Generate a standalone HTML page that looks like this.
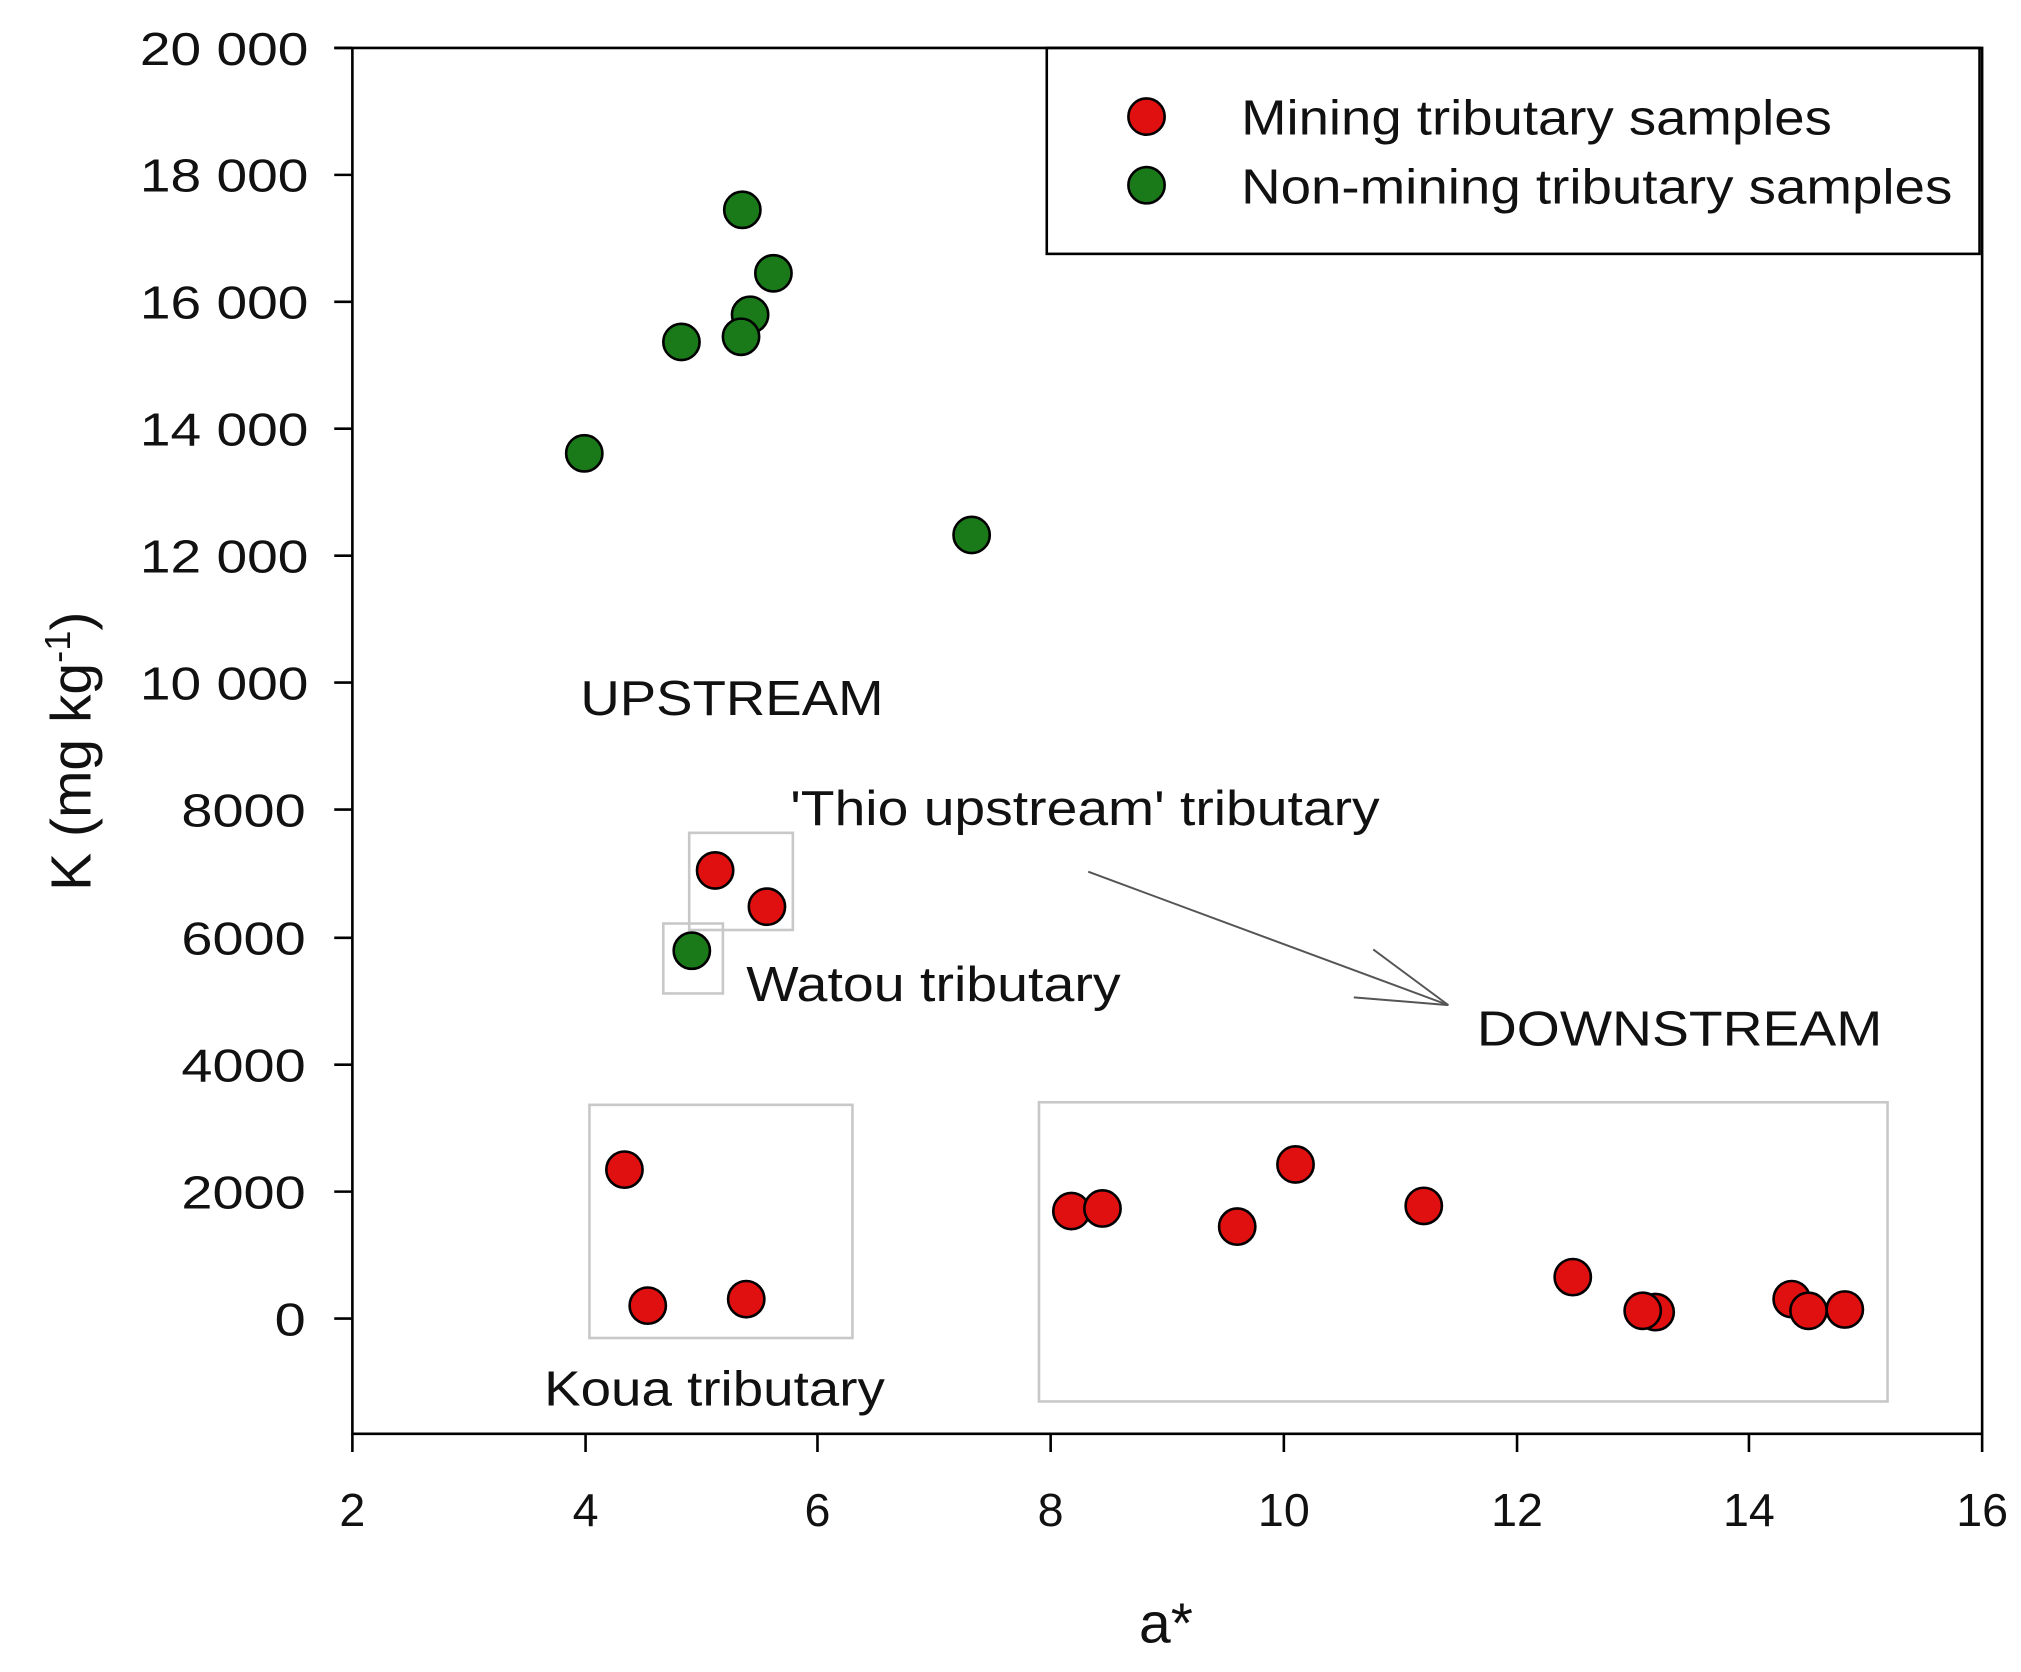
<!DOCTYPE html>
<html><head><meta charset="utf-8"><style>html,body{margin:0;padding:0;background:#fff}</style></head>
<body>
<svg width="2021" height="1667" viewBox="0 0 1560 1287" preserveAspectRatio="none" xmlns="http://www.w3.org/2000/svg" font-family="Liberation Sans, sans-serif">
<rect width="1560" height="1287" fill="#fff"/>
<g fill="none" stroke="#c8c8c8" stroke-width="2">
<rect x="532" y="643" width="80" height="75"/>
<rect x="512" y="713" width="46" height="54"/>
<rect x="455" y="853" width="203" height="180"/>
<rect x="802" y="851" width="655" height="231"/>
</g>
<g stroke="#000" stroke-width="2" fill="none">
<polyline points="258,37 1530,37 1530,1107 272,1107 272,37"/>
<rect x="808" y="37" width="720" height="159"/>
</g>
<g stroke="#000" stroke-width="2">
<line x1="258" y1="37" x2="272" y2="37"/><line x1="258" y1="135" x2="272" y2="135"/>
<line x1="258" y1="233" x2="272" y2="233"/><line x1="258" y1="331" x2="272" y2="331"/>
<line x1="258" y1="429" x2="272" y2="429"/><line x1="258" y1="527" x2="272" y2="527"/>
<line x1="258" y1="625" x2="272" y2="625"/><line x1="258" y1="724" x2="272" y2="724"/>
<line x1="258" y1="822" x2="272" y2="822"/><line x1="258" y1="920" x2="272" y2="920"/>
<line x1="258" y1="1018" x2="272" y2="1018"/>
<line x1="272" y1="1107" x2="272" y2="1121"/><line x1="452" y1="1107" x2="452" y2="1121"/>
<line x1="631" y1="1107" x2="631" y2="1121"/><line x1="811" y1="1107" x2="811" y2="1121"/>
<line x1="991" y1="1107" x2="991" y2="1121"/><line x1="1171" y1="1107" x2="1171" y2="1121"/>
<line x1="1350" y1="1107" x2="1350" y2="1121"/><line x1="1530" y1="1107" x2="1530" y2="1121"/>
</g>
<g font-size="36" fill="#111" lengthAdjust="spacingAndGlyphs">
<text x="108" y="50" textLength="130" lengthAdjust="spacingAndGlyphs">20 000</text>
<text x="108" y="148" textLength="130" lengthAdjust="spacingAndGlyphs">18 000</text>
<text x="108" y="246" textLength="130" lengthAdjust="spacingAndGlyphs">16 000</text>
<text x="108" y="344" textLength="130" lengthAdjust="spacingAndGlyphs">14 000</text>
<text x="108" y="442" textLength="130" lengthAdjust="spacingAndGlyphs">12 000</text>
<text x="108" y="540" textLength="130" lengthAdjust="spacingAndGlyphs">10 000</text>
<text x="140" y="638" textLength="96" lengthAdjust="spacingAndGlyphs">8000</text>
<text x="140" y="737" textLength="96" lengthAdjust="spacingAndGlyphs">6000</text>
<text x="140" y="835" textLength="96" lengthAdjust="spacingAndGlyphs">4000</text>
<text x="140" y="933" textLength="96" lengthAdjust="spacingAndGlyphs">2000</text>
<text x="212" y="1031" textLength="24" lengthAdjust="spacingAndGlyphs">0</text>
</g>
<g font-size="36" text-anchor="middle" fill="#111">
<text x="272" y="1178">2</text><text x="452" y="1178">4</text><text x="631" y="1178">6</text>
<text x="811" y="1178">8</text><text x="991" y="1178">10</text><text x="1171" y="1178">12</text>
<text x="1350" y="1178">14</text><text x="1530" y="1178">16</text>
</g>
<text x="900" y="1268" font-size="44" text-anchor="middle" fill="#111">a*</text>
<text transform="translate(70,580) rotate(-90)" font-size="44" text-anchor="middle" fill="#111">K (mg kg<tspan dy="-16" font-size="28">-1</tspan><tspan dy="16">)</tspan></text>
<g font-size="38" fill="#111">
<text x="448" y="552" textLength="234" lengthAdjust="spacingAndGlyphs">UPSTREAM</text>
<text x="610" y="637" textLength="455" lengthAdjust="spacingAndGlyphs">'Thio upstream' tributary</text>
<text x="576" y="773" textLength="289" lengthAdjust="spacingAndGlyphs">Watou tributary</text>
<text x="1140" y="807" textLength="313" lengthAdjust="spacingAndGlyphs">DOWNSTREAM</text>
<text x="420" y="1085" textLength="263" lengthAdjust="spacingAndGlyphs">Koua tributary</text>
<text x="958" y="104" textLength="456" lengthAdjust="spacingAndGlyphs">Mining tributary samples</text>
<text x="958" y="157" textLength="549" lengthAdjust="spacingAndGlyphs">Non-mining tributary samples</text>
</g>
<g stroke="#555" stroke-width="1.5">
<line x1="840" y1="673" x2="1118" y2="776"/>
<line x1="1060" y1="733" x2="1118" y2="776"/>
<line x1="1045" y1="770" x2="1118" y2="776"/>
</g>
<g fill="#1a7a1a" stroke="#000" stroke-width="2">
<circle cx="885" cy="143" r="14"/>
<circle cx="573" cy="162" r="14"/><circle cx="597" cy="211" r="14"/><circle cx="579" cy="243" r="14"/>
<circle cx="526" cy="264" r="14"/><circle cx="572" cy="260" r="14"/><circle cx="451" cy="350" r="14"/>
<circle cx="750" cy="413" r="14"/><circle cx="534" cy="734" r="14"/>
</g>
<g fill="#e01010" stroke="#000" stroke-width="2">
<circle cx="885" cy="90" r="14"/>
<circle cx="552" cy="672" r="14"/><circle cx="592" cy="700" r="14"/><circle cx="482" cy="903" r="14"/>
<circle cx="500" cy="1008" r="14"/><circle cx="576" cy="1003" r="14"/><circle cx="827" cy="935" r="14"/>
<circle cx="851" cy="933" r="14"/><circle cx="955" cy="947" r="14"/><circle cx="1000" cy="899" r="14"/>
<circle cx="1099" cy="931" r="14"/><circle cx="1214" cy="986" r="14"/><circle cx="1278" cy="1013" r="14"/>
<circle cx="1268" cy="1012" r="14"/><circle cx="1383" cy="1003" r="14"/><circle cx="1396" cy="1012" r="14"/>
<circle cx="1424" cy="1011" r="14"/>
</g>
</svg>
</body></html>
